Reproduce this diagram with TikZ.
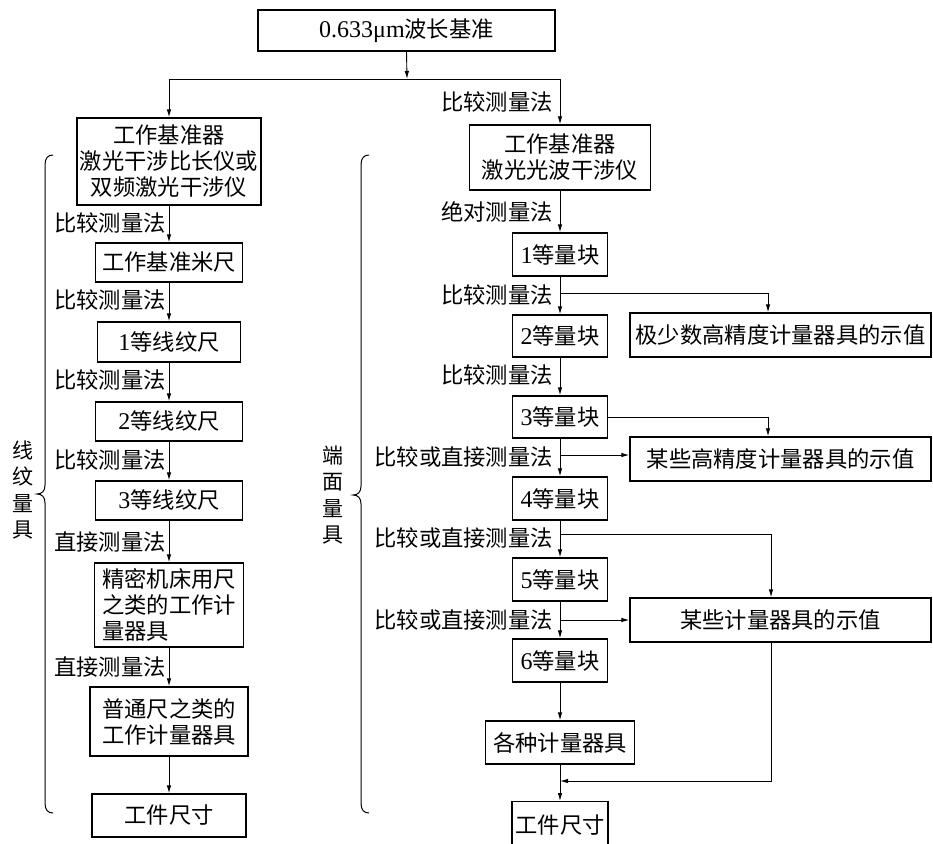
\documentclass[tikz,border=0pt]{standalone}
\usepackage{fontspec}
\setmainfont{Liberation Serif}
\newfontfamily\cjk{Noto Sans CJK SC}
\usetikzlibrary{arrows.meta}
\newcommand\dg[1]{{\rmfamily\fontsize{24}{26}\selectfont #1}}
\begin{document}
\begin{tikzpicture}[x=1pt,y=-1pt,
  box/.style={draw, line width=1.4pt, inner sep=0pt, font=\cjk\fontsize{22.3}{26}\selectfont, align=center},
  lab/.style={inner sep=0pt, anchor=east, font=\cjk\fontsize{22.3}{26}\selectfont},
  vlab/.style={inner sep=0pt, align=center, font=\cjk\fontsize{21}{26.5}\selectfont},
  ln/.style={line width=0.9pt},
  arr/.style={ln, -{Latex[length=8pt,width=4.5pt]}}]
\clip (0,0) rectangle (933,843);
\fill[white] (0,0) rectangle (933,843);
% top
\node[box, minimum width=297, minimum height=41] (T) at (406.5,30.5) {\dg{0.633μm}波长基准};
\coordinate (j0) at (407,79);
\coordinate (jl) at (169,79);
\coordinate (jr) at (560,79);
% left column
\node[box, minimum width=184, minimum height=87] (L1) at (169,161.5) {工作基准器\\激光干涉比长仪或\\双频激光干涉仪};
\node[box, minimum width=147, minimum height=39] (L2) at (169,262.5) {工作基准米尺};
\node[box, minimum width=143, minimum height=40] (L3) at (169,342) {\dg{1}等线纹尺};
\node[box, minimum width=147, minimum height=39] (L4) at (169,421.5) {\dg{2}等线纹尺};
\node[box, minimum width=147, minimum height=39] (L5) at (169,500.5) {\dg{3}等线纹尺};
\node[box, minimum width=149, minimum height=84, align=left] (L6) at (169,605) {精密机床用尺\\之类的工作计\\量器具};
\node[box, minimum width=158, minimum height=69] (L7) at (169,721.5) {普通尺之类的\\工作计量器具};
\node[box, minimum width=154, minimum height=43] (L8) at (169,815.5) {工件尺寸};
% right column
\node[box, minimum width=181, minimum height=65] (R1) at (560,157.5) {工作基准器\\激光光波干涉仪};
\node[box, minimum width=95, minimum height=43] (R2) at (560,254.5) {\dg{1}等量块};
\node[box, minimum width=95, minimum height=42] (R3) at (560,336) {\dg{2}等量块};
\node[box, minimum width=95, minimum height=42] (R4) at (560,417) {\dg{3}等量块};
\node[box, minimum width=95, minimum height=43] (R5) at (560,498.5) {\dg{4}等量块};
\node[box, minimum width=95, minimum height=43] (R6) at (560,579.5) {\dg{5}等量块};
\node[box, minimum width=95, minimum height=43] (R7) at (560,660.5) {\dg{6}等量块};
\node[box, minimum width=149, minimum height=43] (R8) at (560,742.5) {各种计量器具};
\node[box, minimum width=96, minimum height=47, anchor=north] (R9) at (560,801) {};
\node[inner sep=0pt, font=\cjk\fontsize{22.3}{26}\selectfont] (R9t) at (560,825) {工件尺寸};
% side boxes
\node[box, minimum width=301, minimum height=44] (S1) at (780.5,335) {极少数高精度计量器具的示值};
\node[box, minimum width=301, minimum height=44] (S2) at (780.5,459) {某些高精度计量器具的示值};
\node[box, minimum width=301, minimum height=44] (S3) at (780.5,620) {某些计量器具的示值};
% labels left
\node[lab] (a1) at (166,223) {比较测量法};
\node[lab] (a2) at (166,300) {比较测量法};
\node[lab] (a3) at (166,380) {比较测量法};
\node[lab] (a4) at (166,460) {比较测量法};
\node[lab] (a5) at (166,542) {直接测量法};
\node[lab] (a6) at (166,667) {直接测量法};
% labels right
\node[lab] (b0) at (553,102) {比较测量法};
\node[lab] (b1) at (553,212) {绝对测量法};
\node[lab] (b2) at (553,295) {比较测量法};
\node[lab] (b3) at (553,375) {比较测量法};
\node[lab] (b4) at (553,457) {比较或直接测量法};
\node[lab] (b5) at (553,538) {比较或直接测量法};
\node[lab] (b6) at (553,620) {比较或直接测量法};
% side vertical labels
\node[vlab] (v1) at (23,490) {线\\纹\\量\\具};
\node[vlab] (v2) at (333,495) {端\\面\\量\\具};
% braces
\draw[line width=1pt] (53,155) .. controls (48,155) and (45,158) .. (45,165) -- (45,485) .. controls (45,491) and (42,494) .. (37,494) .. controls (42,494) and (45,497) .. (45,503) -- (45,803) .. controls (45,810) and (48,813) .. (53,813);
\draw[line width=1pt] (369,155) .. controls (364,155) and (361,158) .. (361,165) -- (361,486) .. controls (361,492) and (358,495) .. (353,495) .. controls (358,495) and (361,498) .. (361,504) -- (361,803) .. controls (361,810) and (364,813) .. (369,813);
% top connectors
\draw[arr] (T.south) -- (j0);
\draw[ln] (jl) -- (jr);
\draw[arr] (jl) -- (L1.north);
\draw[arr] (jr) -- (R1.north);
% left chain
\draw[arr] (L1.south) -- (L2.north);
\draw[arr] (L2.south) -- (L3.north);
\draw[arr] (L3.south) -- (L4.north);
\draw[arr] (L4.south) -- (L5.north);
\draw[arr] (L5.south) -- (L6.north);
\draw[arr] (L6.south) -- (L7.north);
\draw[arr] (L7.south) -- (L8.north);
% right chain
\draw[arr] (R1.south) -- (R2.north);
\draw[arr] (R2.south) -- (R3.north);
\draw[arr] (R3.south) -- (R4.north);
\draw[arr] (R4.south) -- (R5.north);
\draw[arr] (R5.south) -- (R6.north);
\draw[arr] (R6.south) -- (R7.north);
\draw[arr] (R7.south) -- (R8.north);
\draw[arr] (R8.south) -- (R9.north);
% branches
\coordinate (c1) at (560,293);
\coordinate (c2) at (560,455);
\coordinate (c3) at (560,534);
\coordinate (c4) at (560,620);
\coordinate (c5) at (560,781);
\draw[arr] (c1) -| (S1.north -| 768,0);
\draw[arr] (R4.east) -| (S2.north -| 768,0);
\draw[arr] (c2) -- (S2.west |- c2);
\draw[arr] (c3) -| (S3.north -| 771,0);
\draw[arr] (c4) -- (S3.west);
\draw[arr] (S3.south -| 771,0) |- (c5);
\end{tikzpicture}
\end{document}
